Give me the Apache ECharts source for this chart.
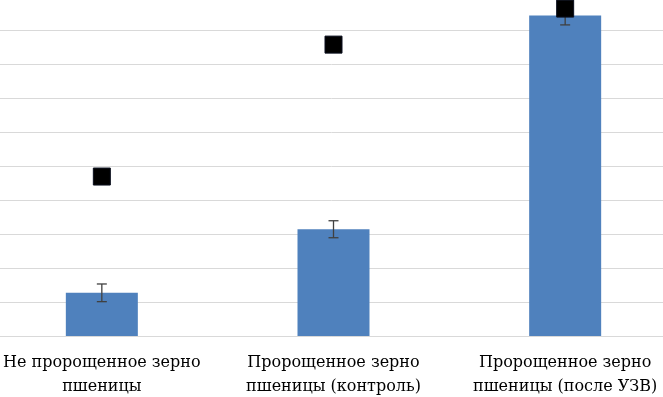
<!DOCTYPE html>
<html>
<head>
<meta charset="utf-8">
<script src="https://cdn.jsdelivr.net/npm/echarts@6/dist/echarts.min.js"></script>
<style>
html,body{margin:0;padding:0;background:#fff;}
#chart{width:663px;height:397px;}
</style>
</head>
<body>
<div id="chart"></div>
<script>
var categories = ['Не пророщенное зерно\nпшеницы', 'Пророщенное зерно\nпшеницы (контроль)', 'Пророщенное зерно\nпшеницы (после УЗВ)'];
var barValues = [1.27, 3.14, 9.43];
var errValues = [0.26, 0.25, 0.28];
var squareValues = [4.69, 8.57, 9.63];

var errData = barValues.map(function (v, i) { return [i, v - errValues[i], v + errValues[i]]; });

var chart = echarts.init(document.getElementById('chart'), null, {renderer: 'canvas'});
chart.setOption({
  animation: false,
  backgroundColor: '#ffffff',
  grid: {left: -14, right: -18, top: -4, bottom: 61, containLabel: false, outerBoundsMode: 'none'},
  xAxis: {
    type: 'category',
    data: categories,
    axisLine: {show: true, lineStyle: {color: '#d9d9d9', width: 1}},
    axisTick: {show: false},
    axisLabel: {
      color: '#000',
      fontFamily: 'DejaVu Serif',
      fontSize: 16,
      lineHeight: 24,
      margin: 15,
      interval: 0
    }
  },
  yAxis: {
    type: 'value',
    min: 0, max: 10, interval: 1,
    axisLine: {show: false},
    axisTick: {show: false},
    axisLabel: {show: false},
    splitLine: {show: true, lineStyle: {color: '#d9d9d9', width: 1}}
  },
  series: [
    {
      type: 'bar',
      data: barValues,
      barWidth: 72,
      itemStyle: {color: '#4f81bd'},
      z: 2
    },
    {
      type: 'custom',
      data: errData,
      z: 3,
      renderItem: function (params, api) {
        var x = api.value(0);
        var lo = api.coord([x, api.value(1)]);
        var hi = api.coord([x, api.value(2)]);
        var hw = 5;
        var style = {stroke: '#404040', lineWidth: 1.3};
        return {
          type: 'group',
          children: [
            {type: 'line', shape: {x1: lo[0], y1: lo[1], x2: hi[0], y2: hi[1]}, style: style},
            {type: 'line', shape: {x1: hi[0] - hw, y1: hi[1], x2: hi[0] + hw, y2: hi[1]}, style: style},
            {type: 'line', shape: {x1: lo[0] - hw, y1: lo[1], x2: lo[0] + hw, y2: lo[1]}, style: style}
          ]
        };
      }
    },
    {
      type: 'scatter',
      data: squareValues,
      symbol: 'rect',
      symbolSize: 17,
      itemStyle: {color: '#000000', opacity: 1, borderColor: '#0a0f1e', borderWidth: 1},
      z: 4
    }
  ]
});
</script>
</body>
</html>
